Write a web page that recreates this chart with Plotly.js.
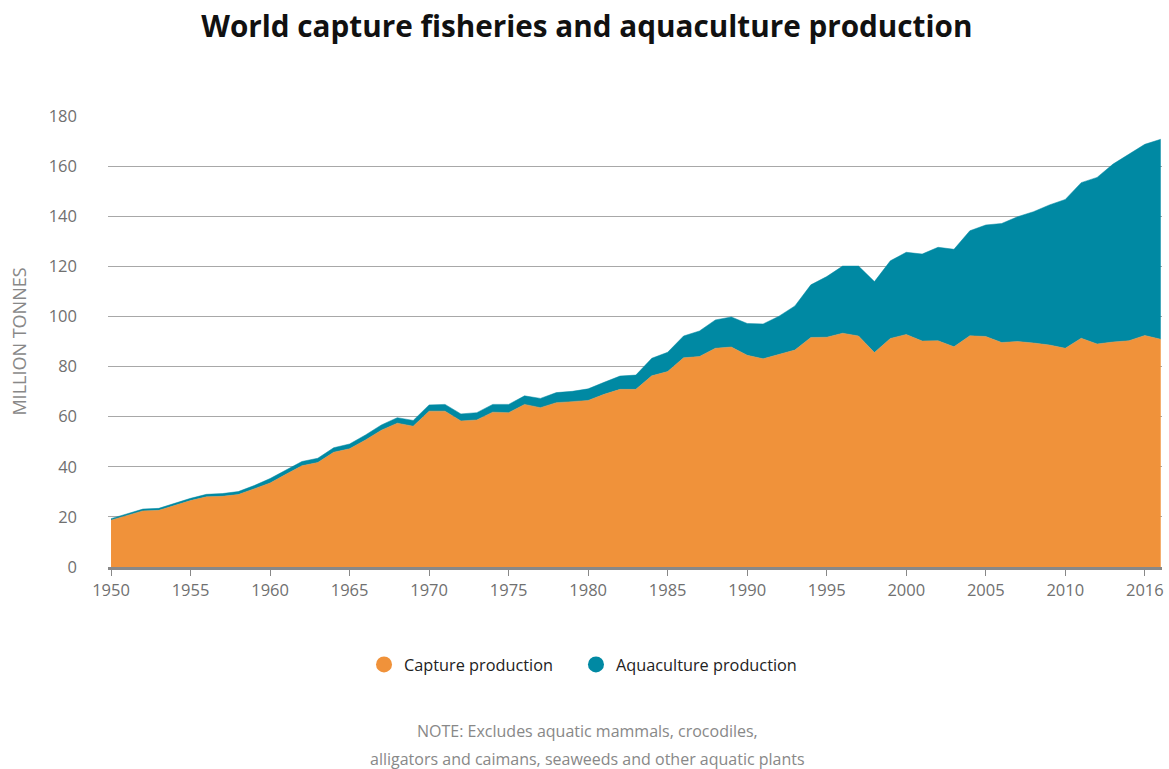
<!DOCTYPE html>
<html>
<head>
<meta charset="utf-8">
<script src="https://cdn.plot.ly/plotly-3.0.1.min.js"></script>
<style>html,body{margin:0;padding:0;background:#fff;}#chart{width:1169px;height:769px;}</style>
</head>
<body>
<div id="chart"></div>
<script>
const years = [];
for (let y = 1950; y <= 2016; y++) years.push(y);

const capture = [
  18.7, 20.5, 22.4, 22.6, 24.6, 26.5, 28.0, 28.2, 28.9, 31.2,
  33.5, 37.0, 40.4, 41.7, 45.8, 47.2, 50.7, 54.6, 57.4, 56.2,
  62.2, 62.2, 58.3, 58.7, 61.8, 61.6, 64.9, 63.6, 65.6, 66.0,
  66.5, 68.9, 70.9, 70.9, 76.3, 78.0, 83.5, 84.0, 87.3, 87.8,
  84.5, 83.1, 84.8, 86.6, 91.6, 91.7, 93.3, 92.2, 85.6, 91.2,
  92.8, 90.2, 90.3, 87.9, 92.3, 92.0, 89.6, 90.0, 89.4, 88.6,
  87.3, 91.3, 89.0, 89.8, 90.3, 92.4, 90.9
];
const aquaculture = [
  0.6, 0.6, 0.7, 0.8, 0.8, 0.9, 1.0, 1.1, 1.2, 1.3,
  1.8, 1.8, 1.7, 1.7, 1.8, 1.9, 2.0, 2.1, 2.2, 2.3,
  2.5, 2.7, 2.8, 2.9, 3.1, 3.3, 3.4, 3.7, 4.0, 4.1,
  4.6, 4.8, 5.3, 5.7, 7.0, 7.7, 8.7, 10.2, 11.3, 12.0,
  12.7, 13.9, 15.3, 17.6, 21.0, 24.2, 26.8, 27.9, 28.3, 31.0,
  32.8, 34.7, 37.3, 38.9, 41.9, 44.5, 47.5, 49.8, 52.4, 55.9,
  59.4, 62.1, 66.5, 71.0, 74.4, 76.3, 79.8
];
const seriesNames = ["Capture production", "Aquaculture production"];
const seriesColors = ["#F0923A", "#0089A3"];
const xTickVals = [1950,1955,1960,1965,1970,1975,1980,1985,1990,1995,2000,2005,2010,2015];
const xTickText = ["1950","1955","1960","1965","1970","1975","1980","1985","1990","1995","2000","2005","2010","2016"];
const yTickVals = [0,20,40,60,80,100,120,140,160,180];
const titleText = "World capture fisheries and aquaculture production";
const yTitleText = "MILLION TONNES";
const noteLines = ["NOTE: Excludes aquatic mammals, crocodiles,", "alligators and caimans, seaweeds and other aquatic plants"];

const FONT = "'Open Sans', 'Noto Sans', sans-serif";

const traces = [
  {
    x: years, y: capture, type: "scatter", mode: "lines", stackgroup: "one",
    name: seriesNames[0], legendgroup: "cap", showlegend: false,
    line: {color: seriesColors[0], width: 0.5}, fillcolor: seriesColors[0], hoverinfo: "skip"
  },
  {
    x: years, y: aquaculture, type: "scatter", mode: "lines", stackgroup: "one",
    name: seriesNames[1], legendgroup: "aqua", showlegend: false,
    line: {color: seriesColors[1], width: 0.5}, fillcolor: seriesColors[1], hoverinfo: "skip"
  },
  {
    x: [null], y: [null], type: "scatter", mode: "markers", name: seriesNames[0],
    legendgroup: "cap", legend: "legend",
    marker: {color: seriesColors[0], size: 16, symbol: "circle"}
  },
  {
    x: [null], y: [null], type: "scatter", mode: "markers", name: seriesNames[1],
    legendgroup: "aqua", legend: "legend2",
    marker: {color: seriesColors[1], size: 16, symbol: "circle"}
  }
];

const legendBase = {
  orientation: "h", yanchor: "middle", y: -0.217, xanchor: "left",
  font: {family: FONT, size: 16.3, color: "#222"},
  itemclick: false, itemdoubleclick: false
};

const layout = {
  width: 1169, height: 769,
  paper_bgcolor: "#fff", plot_bgcolor: "#fff",
  margin: {l: 108, r: 7, t: 116, b: 202},
  font: {family: FONT, color: "#777"},
  title: {
    text: "<b>" + titleText + "</b>",
    font: {family: FONT, size: 29.7, color: "#111"},
    x: 0.502, xanchor: "center", xref: "container",
    y: 0.965, yanchor: "middle", yref: "container"
  },
  xaxis: {
    range: [1949.81, 2016.08],
    tickvals: xTickVals, ticktext: xTickText,
    showgrid: false, zeroline: false,
    showline: true, linecolor: "#888", linewidth: 3,
    ticks: "outside", ticklen: 6, tickwidth: 1, tickcolor: "#888",
    tickfont: {family: FONT, size: 16.5, color: "#707070"}
  },
  yaxis: {
    range: [0, 180],
    tickvals: yTickVals,
    showgrid: true, gridcolor: "#a8a8a8", gridwidth: 1,
    zeroline: false, showline: false, ticks: "",
    ticklabelstandoff: 30,
    tickfont: {family: FONT, size: 16.5, color: "#707070"},
    title: {text: yTitleText, font: {family: FONT, size: 18, color: "#888"}, standoff: 17}
  },
  showlegend: true,
  legend: Object.assign({}, legendBase, {x: 0.2429}),
  legend2: Object.assign({}, legendBase, {x: 0.4440}),
  annotations: [
    {text: noteLines[0], xref: "paper", yref: "paper", x: 0.4545, y: -0.3636,
     xanchor: "center", yanchor: "middle", showarrow: false,
     font: {family: FONT, size: 16, color: "#888"}},
    {text: noteLines[1], xref: "paper", yref: "paper", x: 0.4545, y: -0.4257,
     xanchor: "center", yanchor: "middle", showarrow: false,
     font: {family: FONT, size: 16, color: "#888"}}
  ]
};

Plotly.newPlot("chart", traces, layout, {staticPlot: true, displayModeBar: false});
</script>
</body>
</html>
